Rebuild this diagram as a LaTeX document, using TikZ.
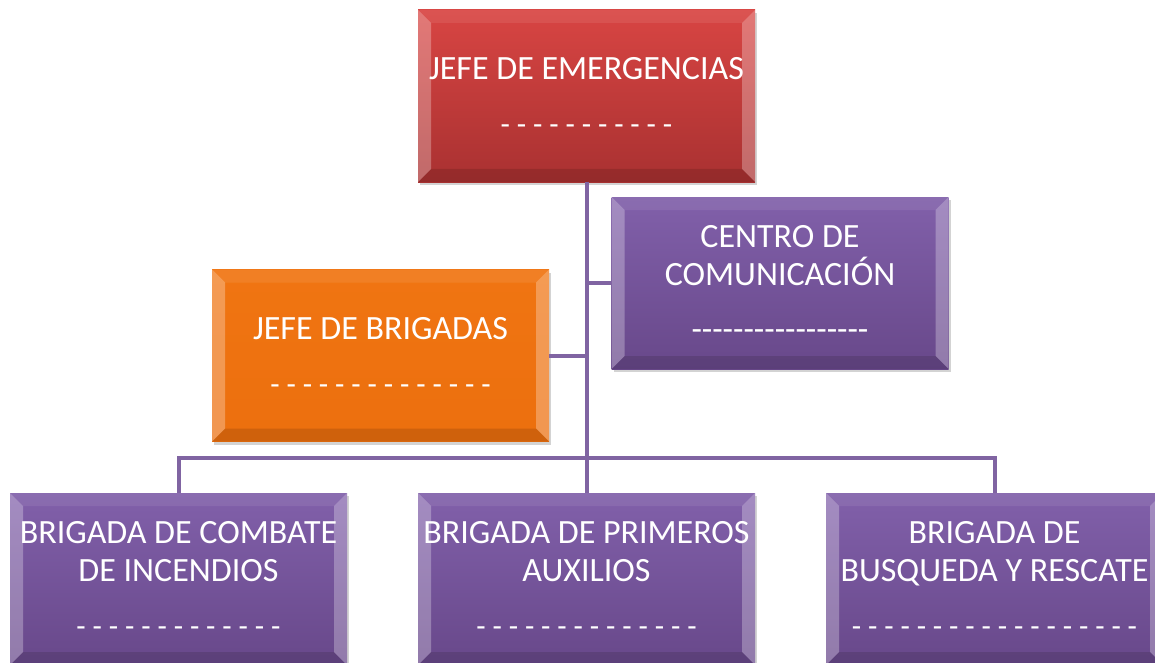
\documentclass[tikz,border=0pt]{standalone}
\usepackage{fontspec}
\setmainfont{Carlito}[Ligatures=TeXOff]
\usetikzlibrary{shadows}
\definecolor{redtop}{HTML}{D84543}
\definecolor{redbot}{HTML}{A93131}
\definecolor{orgtop}{HTML}{F07512}
\definecolor{orgbot}{HTML}{EC6F0E}
\definecolor{purtop}{HTML}{8160AA}
\definecolor{purbot}{HTML}{68488A}
\definecolor{linkcol}{HTML}{8064A2}
\newcommand{\dashrow}[1]{\fontsize{30.5}{38}\selectfont #1}
\tikzset{
  box/.style={rectangle,inner sep=0pt,minimum width=337pt,minimum height=172pt,
    text=white,align=center,font=\fontsize{34}{38}\selectfont,
    drop shadow={opacity=0.35,shadow xshift=2pt,shadow yshift=-3pt},
    path picture={
      \fill[white,opacity=0.28] (path picture bounding box.north west) -- ++(13pt,-13pt)
        -- ([shift={(13pt,13pt)}]path picture bounding box.south west)
        -- (path picture bounding box.south west) -- cycle;
      \fill[white,opacity=0.28] (path picture bounding box.north east) -- ++(-13pt,-13pt)
        -- ([shift={(-13pt,13pt)}]path picture bounding box.south east)
        -- (path picture bounding box.south east) -- cycle;
      \fill[white,opacity=0.08] (path picture bounding box.north west)
        -- (path picture bounding box.north east) -- ++(-13pt,-13pt)
        -- ([shift={(13pt,-13pt)}]path picture bounding box.north west) -- cycle;
      \fill[black,opacity=0.12] (path picture bounding box.south west)
        -- (path picture bounding box.south east) -- ++(-13pt,13pt)
        -- ([shift={(13pt,13pt)}]path picture bounding box.south west) -- cycle;
    }},
  redbox/.style={box,top color=redtop,bottom color=redbot},
  orgbox/.style={box,top color=orgtop,bottom color=orgbot},
  purbox/.style={box,top color=purtop,bottom color=purbot},
  link/.style={draw=linkcol,line width=4pt}
}

\begin{document}
\begin{tikzpicture}[x=1pt,y=1pt]
\useasboundingbox (0,0) rectangle (1155,-663);
\coordinate (bus) at (586.5,-458);
% boxes
\node[redbox] (jefe) at (586.5,-96) {JEFE DE EMERGENCIAS\\[17pt]\dashrow{- - - - - - - - - - -}};
\node[purbox] (centro) at (780,-283) {CENTRO DE\\COMUNICACIÓN\\[17pt]-----------------};
\node[orgbox] (brig) at (380.5,-355.5) {JEFE DE BRIGADAS\\[17pt]\dashrow{- - - - - - - - - - - - - -}};
\node[purbox] (combate) at (178.5,-579) {BRIGADA DE COMBATE\\DE INCENDIOS\\[17pt]\dashrow{- - - - - - - - - - - - -}};
\node[purbox] (auxilios) at (586.5,-579) {BRIGADA DE PRIMEROS\\AUXILIOS\\[17pt]\dashrow{- - - - - - - - - - - - - -}};
\node[purbox] (rescate) at (994.5,-579) {BRIGADA DE\\BUSQUEDA Y RESCATE\\[17pt]\dashrow{- - - - - - - - - - - - - - - - - -}};
% connectors
\draw[link] (jefe.south) -- (auxilios.north);
\draw[link] (jefe.south |- centro.west) -- (centro.west);
\draw[link] (jefe.south |- brig.east) -- (brig.east);
\draw[link] (combate.north) |- (bus) -| (rescate.north);
\end{tikzpicture}
\end{document}
